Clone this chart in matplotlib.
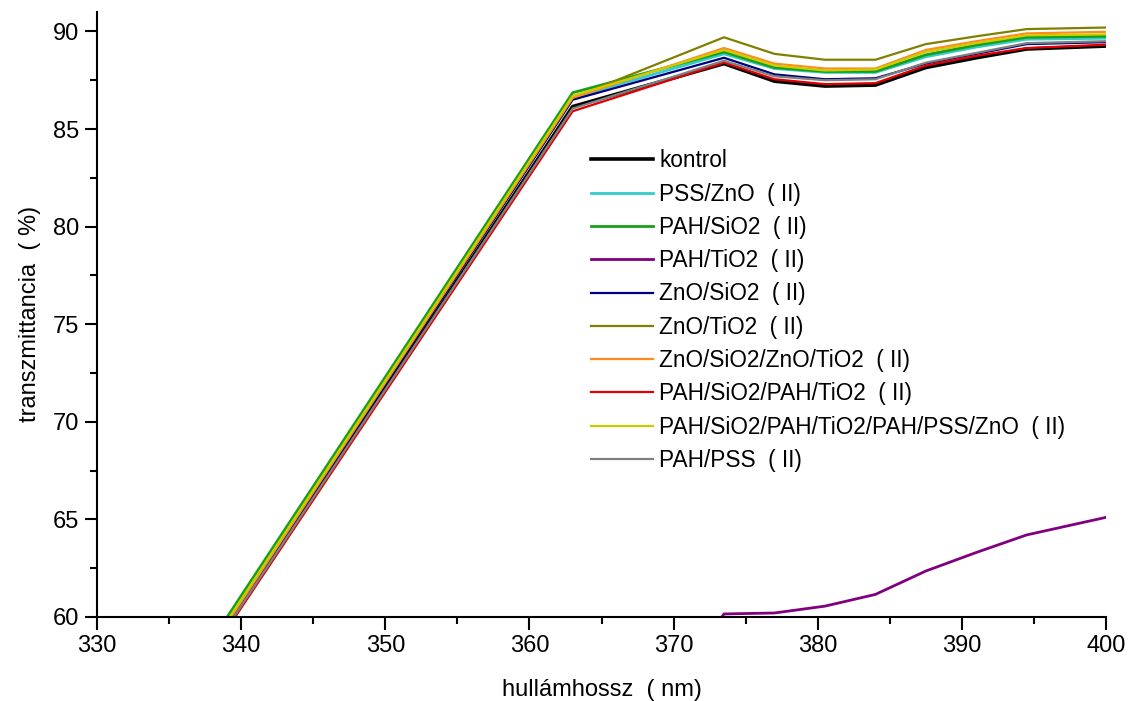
import matplotlib
matplotlib.use("Agg")
import matplotlib.pyplot as plt
import numpy as np
from matplotlib.ticker import MultipleLocator

plt.rcParams['font.family'] = ['Liberation Sans', 'DejaVu Sans']

wavelength = [338.5, 363.0, 373.5, 377.0, 380.5, 384.0, 387.5, 391.0, 394.5, 400.0]

kontrol      = [58.9, 86.15, 88.35, 87.45, 87.20, 87.25, 88.15, 88.65, 89.10, 89.25]
pss_zno      = [59.2, 86.60, 88.85, 88.10, 87.90, 87.90, 88.70, 89.20, 89.60, 89.65]
pah_sio2     = [59.4, 86.86, 88.95, 88.15, 87.95, 87.95, 88.80, 89.30, 89.70, 89.75]
pah_tio2     = [40.0, 50.00, 60.15, 60.20, 60.55, 61.15, 62.35, 63.30, 64.20, 65.10]
zno_sio2     = [59.0, 86.50, 88.65, 87.80, 87.55, 87.60, 88.35, 88.85, 89.35, 89.45]
zno_tio2     = [59.1, 86.60, 89.70, 88.85, 88.55, 88.55, 89.35, 89.75, 90.12, 90.20]
zno_sio2_zno_tio2 = [59.1, 86.60, 89.15, 88.35, 88.10, 88.10, 89.05, 89.50, 89.90, 89.98]
pah_sio2_pah_tio2 = [58.8, 85.91, 88.40, 87.55, 87.30, 87.35, 88.25, 88.75, 89.15, 89.32]
pah_multi    = [59.2, 86.70, 89.05, 88.25, 88.00, 88.05, 88.95, 89.40, 89.80, 89.85]
pah_pss      = [58.9, 86.05, 88.50, 87.70, 87.50, 87.55, 88.40, 88.90, 89.40, 89.50]

labels = ["kontrol", "PSS/ZnO  ( II)", "PAH/SiO2  ( II)", "PAH/TiO2  ( II)",
          "ZnO/SiO2  ( II)", "ZnO/TiO2  ( II)", "ZnO/SiO2/ZnO/TiO2  ( II)",
          "PAH/SiO2/PAH/TiO2  ( II)", "PAH/SiO2/PAH/TiO2/PAH/PSS/ZnO  ( II)",
          "PAH/PSS  ( II)"]
series = [kontrol, pss_zno, pah_sio2, pah_tio2, zno_sio2, zno_tio2,
          zno_sio2_zno_tio2, pah_sio2_pah_tio2, pah_multi, pah_pss]
colors = ["#000000", "#33cccc", "#1a9e1a", "#800080", "#000080", "#808000",
          "#ff8c1a", "#e00000", "#cccc00", "#808080"]
widths = [2.6, 2.0, 2.0, 2.0, 1.6, 1.6, 1.6, 1.6, 1.6, 1.6]

fig = plt.figure(figsize=(11.28, 7.01), dpi=100)
ax = fig.add_axes([0.086, 0.12, 0.8945, 0.863])

for y, lab, c, w in zip(series, labels, colors, widths):
    ax.plot(wavelength, y, color=c, lw=w, label=lab)

ax.set_xlim(330, 400)
ax.set_ylim(60, 91)
ax.xaxis.set_major_locator(MultipleLocator(10))
ax.xaxis.set_minor_locator(MultipleLocator(5))
ax.yaxis.set_major_locator(MultipleLocator(5))
ax.yaxis.set_minor_locator(MultipleLocator(2.5))
for s in ['top', 'right']:
    ax.spines[s].set_visible(False)
for s in ['left', 'bottom']:
    ax.spines[s].set_linewidth(1.5)
ax.tick_params(which='major', direction='out', length=9, width=1.5, labelsize=17, pad=4)
ax.tick_params(which='minor', direction='out', length=5, width=1.5)

ax.set_xlabel("hullámhossz  ( nm)", fontsize=17, labelpad=16)
ax.set_ylabel("transzmittancia  ( %)", fontsize=17, labelpad=8)

leg = ax.legend(loc='upper left', bbox_to_anchor=(0.4807, 0.788), frameon=False,
                fontsize=16.3, handlelength=2.75, handletextpad=0.25,
                labelspacing=0.455, borderaxespad=0)

fig.savefig("out.png", dpi=100)
